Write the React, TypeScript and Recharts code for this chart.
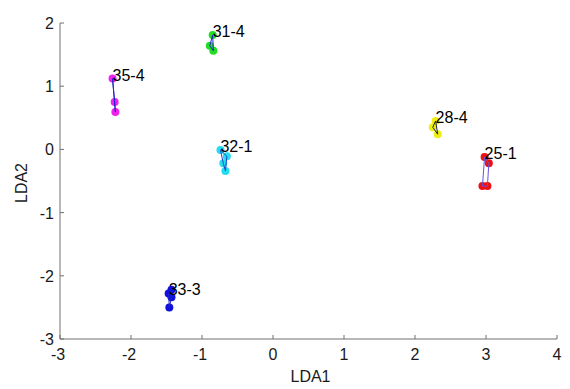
import React from 'react';
import { ScatterChart, Scatter, XAxis, YAxis } from 'recharts';

const xTicks = [-3, -2, -1, 0, 1, 2, 3, 4];
const yTicks = [-3, -2, -1, 0, 1, 2];

// cluster points (first point carries the label)
const pts354 = [{ x: -2.26, y: 1.12 }, { x: -2.23, y: 0.75 }, { x: -2.22, y: 0.59 }];
const pts314 = [{ x: -0.85, y: 1.81 }, { x: -0.84, y: 1.56 }, { x: -0.89, y: 1.64 }];
const pts321 = [{ x: -0.74, y: -0.01 }, { x: -0.65, y: -0.11 }, { x: -0.67, y: -0.34 }, { x: -0.70, y: -0.22 }];
const pts333 = [{ x: -1.47, y: -2.28 }, { x: -1.43, y: -2.22 }, { x: -1.43, y: -2.34 }, { x: -1.46, y: -2.5 }];
const pts284 = [{ x: 2.29, y: 0.45 }, { x: 2.25, y: 0.35 }, { x: 2.32, y: 0.24 }];
const pts251 = [{ x: 2.98, y: -0.12 }, { x: 3.04, y: -0.22 }, { x: 3.02, y: -0.58 }, { x: 2.95, y: -0.58 }];

const seriesNames = ['35-4', '31-4', '32-1', '33-3', '28-4', '25-1'];
const seriesPoints = [pts354, pts314, pts321, pts333, pts284, pts251];
const markerColors = ['#ee22ee', '#22dd22', '#22ddee', '#1010dd', '#eeee11', '#ee1111'];
const lineColors = ['#2222cc', '#2222cc', '#2244cc', '#2222cc', '#222244', '#6655dd'];

const axisColor = '#707070';
const textColor = '#1a1a1a';
const font = "Arial, 'Liberation Sans', sans-serif";

const XTick = (props: any) => {
  const { x, y, payload } = props;
  const dx = payload.value < 0 ? -2 : 0;
  return (
    <g>
      <line x1={x} y1={y} x2={x} y2={y - 4} stroke={axisColor} />
      <text x={x + dx} y={y + 21} textAnchor="middle" fontSize={16} fill={textColor} fontFamily={font}>
        {payload.value}
      </text>
    </g>
  );
};

const YTick = (props: any) => {
  const { x, y, payload } = props;
  return (
    <g>
      <line x1={x} y1={y} x2={x + 4} y2={y} stroke={axisColor} />
      <text x={x - 6} y={y + 6} textAnchor="end" fontSize={16} fill={textColor} fontFamily={font}>
        {payload.value}
      </text>
    </g>
  );
};

const Dot = (color: string) => (props: any) => {
  const { cx, cy } = props;
  return <circle cx={cx} cy={cy} r={4} fill={color} stroke="none" />;
};

const NoShape = () => <g />;

const LabelShape = (props: any) => {
  const { cx, cy, payload } = props;
  return (
    <text x={cx} y={cy + 2} fontSize={16} fill="#000" fontFamily={font}>
      {payload.name}
    </text>
  );
};

const labelPoints = seriesPoints.map((p, i) => ({ x: p[0].x, y: p[0].y, name: seriesNames[i] }));

export default function App() {
  return (
    <div style={{ position: 'absolute', left: 0, top: 0, background: '#fff' }}>
      <ScatterChart width={570} height={389} margin={{ top: 23, right: 13, bottom: 0, left: 0 }}>
        <XAxis
          type="number"
          dataKey="x"
          domain={[-3, 4]}
          ticks={xTicks}
          allowDataOverflow
          height={50}
          tickSize={0}
          tickMargin={0}
          tickLine={false}
          axisLine={{ stroke: axisColor }}
          tick={<XTick />}
          label={(p: any) => {
            const vb = p.viewBox;
            return (
              <text x={vb.x + vb.width / 2 + 2} y={vb.y + 43} textAnchor="middle" fontSize={16} fill={textColor} fontFamily={font}>
                LDA1
              </text>
            );
          }}
        />
        <YAxis
          type="number"
          dataKey="y"
          domain={[-3, 2]}
          ticks={yTicks}
          allowDataOverflow
          width={60}
          tickSize={0}
          tickMargin={0}
          tickLine={false}
          axisLine={{ stroke: axisColor }}
          tick={<YTick />}
          label={(p: any) => {
            const vb = p.viewBox;
            const cy = vb.y + vb.height / 2 + 2;
            return (
              <text x={27} y={cy} transform={`rotate(-90 27 ${cy})`} textAnchor="middle" fontSize={16} fill={textColor} fontFamily={font}>
                LDA2
              </text>
            );
          }}
        />
        {seriesPoints.map((pts, i) => (
          <Scatter
            key={'m' + i}
            data={pts}
            shape={Dot(markerColors[i])}
            isAnimationActive={false}
          />
        ))}
        {seriesPoints.map((pts, i) => (
          <Scatter
            key={'l' + i}
            data={[...pts, pts[0]]}
            shape={NoShape}
            line={{ stroke: lineColors[i], strokeWidth: 1 }}
            lineType="joint"
            isAnimationActive={false}
          />
        ))}
        <Scatter data={labelPoints} shape={LabelShape} isAnimationActive={false} />
      </ScatterChart>
    </div>
  );
}
